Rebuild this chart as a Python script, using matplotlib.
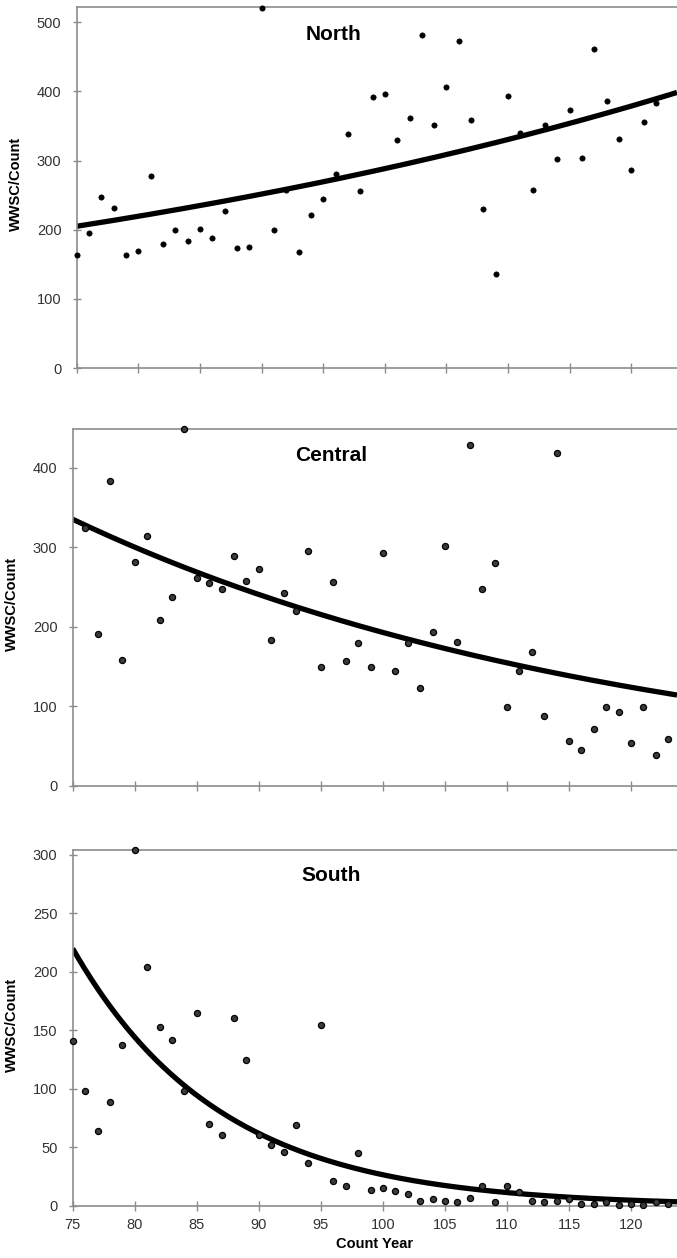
### IMPORTS ###
import numpy as np
import matplotlib
matplotlib.use('Agg')
import matplotlib.pyplot as plt

### DATA ###
# North
north_years = [75, 76, 77, 78, 79, 80, 81, 82, 83, 84, 85, 86, 87, 88, 89, 90,
               91, 92, 93, 94, 95, 96, 97, 98, 99, 100, 101, 102, 103, 104, 105,
               106, 107, 108, 109, 110, 111, 112, 113, 114, 115, 116, 117, 118,
               119, 120, 121, 122, 124]
north_vals = [163, 195, 248, 232, 163, 169, 277, 179, 199, 183, 201, 188, 227,
              173, 175, 521, 200, 258, 168, 222, 245, 280, 338, 256, 392, 396,
              330, 361, 482, 352, 406, 473, 359, 230, 136, 393, 340, 258, 352,
              302, 373, 304, 462, 386, 331, 286, 356, 383, 291]

# Central
central_years = [76, 77, 78, 79, 80, 81, 82, 83, 84, 85, 86, 87, 88, 89, 90, 91,
                 92, 93, 94, 95, 96, 97, 98, 99, 100, 101, 102, 103, 104, 105,
                 106, 107, 108, 109, 110, 111, 112, 113, 114, 115, 116, 117, 118,
                 119, 120, 121, 122, 123, 124]
central_vals = [324, 191, 383, 158, 281, 314, 208, 237, 448, 261, 255, 247, 289,
                258, 272, 183, 243, 220, 295, 149, 256, 157, 179, 149, 293, 145,
                179, 123, 194, 302, 181, 428, 247, 280, 99, 145, 168, 88, 418,
                56, 45, 72, 99, 93, 54, 99, 39, 59, 84]

# South
south_years = [75, 76, 77, 78, 79, 80, 81, 82, 83, 84, 85, 86, 87, 88, 89, 90,
               91, 92, 93, 94, 95, 96, 97, 98, 99, 100, 101, 102, 103, 104, 105,
               106, 107, 108, 109, 110, 111, 112, 113, 114, 115, 116, 117, 118,
               119, 120, 121, 122, 123]
south_vals = [141, 98, 64, 89, 138, 304, 204, 153, 142, 98, 165, 70, 61, 161,
              125, 61, 52, 46, 69, 37, 155, 21, 17, 45, 14, 15, 13, 10, 4, 6,
              4, 3, 7, 17, 3, 17, 12, 4, 3, 4, 6, 2, 2, 3, 1, 2, 1, 3, 2]

# exponential trend lines: value at year 75 and growth rate per year
north_trend = (205, 0.01365)
central_trend = (335, -0.02209)
south_trend = (220, -0.0844)

regions = ['North', 'Central', 'South']
x_ticks = [75, 80, 85, 90, 95, 100, 105, 110, 115, 120]

### PLOT ###
plt.rcParams['font.family'] = ['Liberation Sans', 'DejaVu Sans']
grey = '#8c8c8c'
xmax = 123.7

fig = plt.figure(figsize=(6.77, 12.58), dpi=100)

panels = [
    # rect, years, vals, trend, ylim top, yticks, marker face, title y
    ([0.1133, 0.70747, 0.8867, 0.28672], north_years, north_vals, north_trend,
     521.7, np.arange(0, 501, 100), 'black', 0.926),
    ([0.10739, 0.37520, 0.89261, 0.28355], central_years, central_vals,
     central_trend, 448, np.arange(0, 401, 100), '#3c3c3c', 0.926),
    ([0.10739, 0.04134, 0.89261, 0.28275], south_years, south_vals,
     south_trend, 304, np.arange(0, 301, 50), '#3c3c3c', 0.928),
]

for i, (rect, years, vals, trend, ytop, yticks, face, ty) in enumerate(panels):
    ax = fig.add_axes(rect)
    ax.set_xlim(75, xmax)
    ax.set_ylim(0, ytop)

    # trend line
    xs = np.linspace(75, xmax, 200)
    ax.plot(xs, trend[0] * np.exp(trend[1] * (xs - 75)), color='black', lw=3.8,
            solid_capstyle='butt', zorder=2)

    # data points
    if face == 'black':
        ax.plot(years, vals, 'o', ms=3.8, mfc='black', mec='black', mew=0.5,
                clip_on=False, zorder=3)
    else:
        ax.plot(years, vals, 'o', ms=4.4, mfc=face, mec='black', mew=0.9,
                clip_on=False, zorder=3)

    ax.text(0.428, ty, regions[i], transform=ax.transAxes, ha='center',
            va='center', fontsize=15, fontweight='bold')

    for side in ['left', 'bottom', 'top']:
        ax.spines[side].set_color(grey)
        ax.spines[side].set_linewidth(1.2)
    ax.spines['right'].set_visible(False)

    ax.set_xticks(x_ticks)
    ax.set_yticks(yticks)
    ax.tick_params(axis='x', direction='inout', length=7, width=1, color=grey,
                   labelsize=10.5, labelcolor='#333333', pad=5)
    ax.tick_params(axis='y', direction='inout', length=6, width=1, color=grey,
                   labelsize=10.5, labelcolor='#333333', pad=8)
    if i < 2:
        ax.tick_params(axis='x', labelbottom=False)
    else:
        ax.set_xlabel('Count Year', fontsize=10.5, fontweight='bold')

    ax.set_ylabel('WWSC/Count', fontsize=10.5, fontweight='bold')
    ax.yaxis.set_label_coords(-0.089, 0.51)

plt.savefig('out.png', dpi=100)
